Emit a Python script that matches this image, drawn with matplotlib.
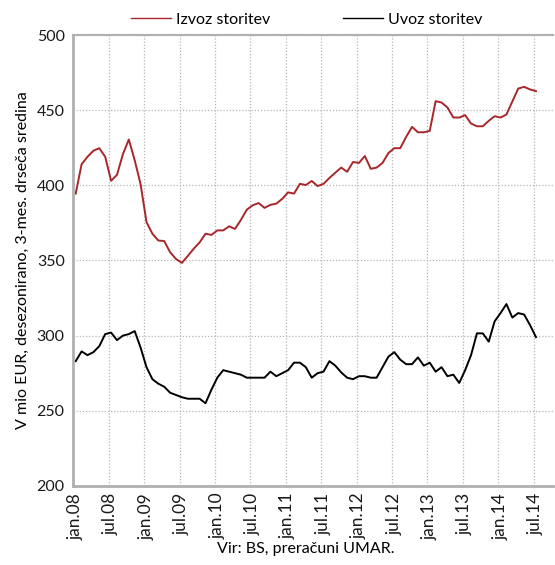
import matplotlib
matplotlib.use("Agg")
import matplotlib.pyplot as plt
import numpy as np

plt.rcParams['font.family'] = ['Lato', 'DejaVu Sans']

months = ["jan", "feb", "mar", "apr", "maj", "jun", "jul", "avg", "sep", "okt", "nov", "dec"]
periods = [f"{m}.{y:02d}" for y in range(8, 15) for m in months][:79]

izvoz = [394.5, 414, 419, 423, 424.7, 419, 403, 407, 420.7, 430.5, 416.7, 400.7,
         375.5, 367.8, 363.3, 362.9, 355.5, 351, 348.4, 353, 357.8, 362, 367.8, 367,
         370, 370, 372.7, 371, 377, 383.8, 386.7, 388.2, 385, 387, 387.8, 391,
         395.3, 394.5, 401, 400.2, 402.9, 399.5, 401, 404.9, 408.4, 411.8, 409, 415.5,
         414.9, 419.5, 411, 411.8, 414.9, 421.5, 424.7, 424.7, 432.2, 438.9, 435.3, 435.3,
         436.2, 456, 455.1, 451.8, 445.1, 445.1, 446.7, 441.1, 439.3, 439.3, 442.9, 446,
         445.1, 447.1, 455.8, 464.4, 465.5, 463.8, 462.7]

uvoz = [283, 289.5, 287, 289, 293, 301, 302, 297, 300, 301, 303, 292,
        279, 271, 268, 266, 262, 260.5, 259, 258, 258, 258, 255, 264,
        272, 277, 276, 275, 274, 272, 272, 272, 272, 276, 273, 275,
        277, 282, 282, 279, 272, 275, 276, 283, 280, 275.5, 272, 271,
        273, 273, 272, 272, 279, 286, 289, 284, 281, 281, 285.5, 280,
        282, 276, 279, 273, 274, 268.5, 277, 287, 301.5, 301.5, 296, 309.5,
        315, 321, 312, 315, 314, 307, 299]

tick_labels = ["jan.08", "jul.08", "jan.09", "jul.09", "jan.10", "jul.10", "jan.11",
               "jul.11", "jan.12", "jul.12", "jan.13", "jul.13", "jan.14", "jul.14"]

fig = plt.figure(figsize=(5.55, 5.65), dpi=100)
ax = fig.add_axes([0.1315, 0.140, 0.865, 0.798])

x = np.arange(len(periods))
ax.plot(x, izvoz, color='#a8272a', lw=1.4, label='Izvoz storitev')
ax.plot(x, uvoz, color='black', lw=1.4, label='Uvoz storitev')

ax.set_ylim(200, 500)
ax.set_yticks([200, 250, 300, 350, 400, 450, 500])
ax.set_xlim(-0.46, 80.9)
tick_pos = np.arange(0, 79, 6)
ax.set_xticks(tick_pos)
ax.set_xticklabels(tick_labels, rotation=90)
ax.set_xticks(tick_pos - 0.4, minor=True)

ax.grid(axis='y', which='major', color='#b5b5b5', linestyle=(0, (1, 1.5)), lw=0.9)
ax.grid(axis='x', which='minor', color='#b5b5b5', linestyle=(0, (1, 1.5)), lw=0.9)
ax.grid(axis='x', which='major', visible=False)
ax.tick_params(axis='both', which='both', length=0, colors='#1a1a1a')
ax.tick_params(axis='x', pad=5, labelsize=12.5)
ax.tick_params(axis='y', pad=6, labelsize=11.5)

for s in ['left', 'bottom']:
    ax.spines[s].set_color('#b0b0b0')
    ax.spines[s].set_linewidth(2)
ax.spines['top'].set_color('#b0b0b0')
ax.spines['top'].set_linewidth(1.5)
ax.spines['top'].set_linestyle((0, (1, 0.5)))
ax.spines['right'].set_visible(False)

ax.set_ylabel("V mio EUR, desezonirano, 3-mes. drseča sredina", fontsize=11.5, labelpad=5)
ax.set_xlabel("Vir: BS, preračuni UMAR.", fontsize=11.5, labelpad=5)
ax.xaxis.set_label_coords(0.485, -0.125)
ax.xaxis.label.set_verticalalignment('top')

leg = ax.legend(loc='lower center', bbox_to_anchor=(0.487, 1.0), ncol=2, frameon=False,
                fontsize=11.5, handlelength=2.5, handletextpad=0.3, columnspacing=4.6,
                borderaxespad=0.1)
for h in leg.get_lines():
    h.set_linewidth(1.0)

fig.savefig("out.png", dpi=100)
